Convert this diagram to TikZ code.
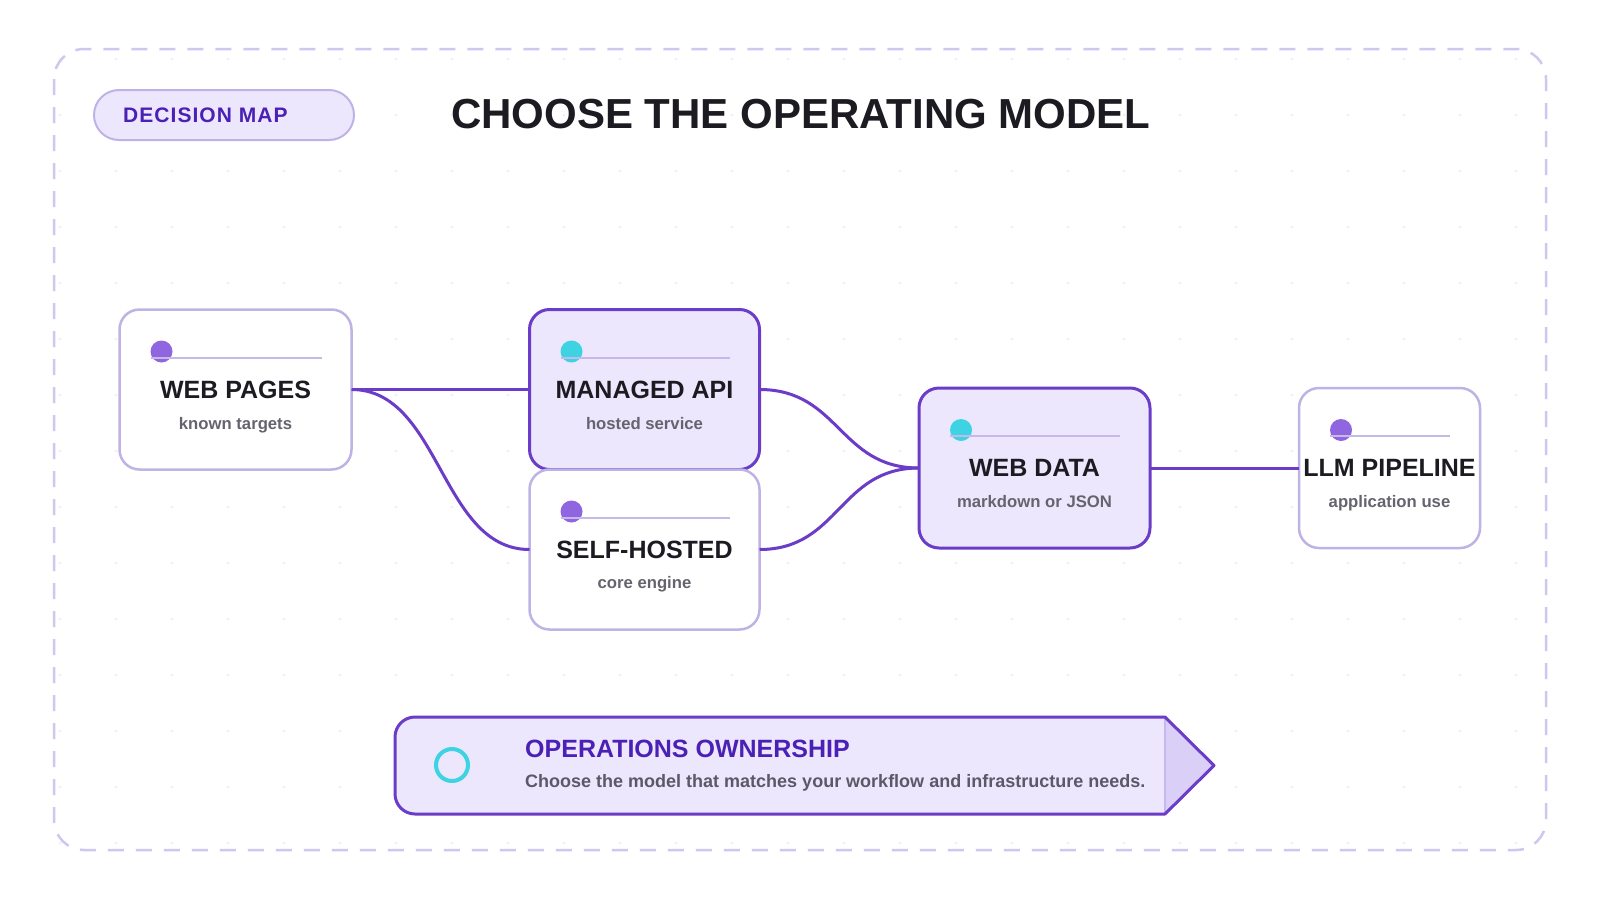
\documentclass[tikz,border=0pt]{standalone}
\usepackage{fontspec}
\usepackage{graphicx}
\setmainfont{Liberation Sans}
\newfontfamily\tagfont[LetterSpace=5]{Liberation Sans}
\usetikzlibrary{positioning, backgrounds}

\definecolor{ink}{HTML}{1C1B22}
\definecolor{subgray}{HTML}{66636F}
\definecolor{notegray}{HTML}{5B5868}
\definecolor{violet}{HTML}{6A3CC8}
\definecolor{lilac}{HTML}{BFB3E6}
\definecolor{lavender}{HTML}{EDE7FD}
\definecolor{railc}{HTML}{C4B9E8}
\definecolor{dotpurple}{HTML}{9065E0}
\definecolor{dotcyan}{HTML}{3DD3E3}
\definecolor{indigo}{HTML}{4B20B5}
\definecolor{framedash}{HTML}{CEC7EF}
\definecolor{griddot}{HTML}{F2F0F7}
\definecolor{tipfill}{HTML}{D9CFF7}
\definecolor{tipline}{HTML}{C4B8EE}

\begin{document}
\begin{tikzpicture}[
    x=1pt, y=-1pt,
    card/.style={rectangle, draw=lilac, line width=2.5pt, fill=white, rounded corners=20pt, minimum width=232pt, minimum height=160pt, inner sep=0pt, outer sep=0pt, text=ink, font={\bfseries\fontsize{25}{29}\selectfont}},
    pick/.style={card, draw=violet, line width=3pt, fill=lavender},
    sub/.style={anchor=base, inner sep=0pt, text=subgray, font={\bfseries\fontsize{16.7}{19}\selectfont}},
    link/.style={draw=violet, line width=3pt},
    rail/.style={draw=railc, line width=2pt},
    pill/.style={rectangle, draw=lilac, line width=2pt, fill=lavender, rounded corners=25pt, minimum width=260pt, minimum height=50pt}
]
\useasboundingbox (0,0) rectangle (1600,900);

% Header
\node[pill] (tag) at (224,115) {};
\node[anchor=base west, inner sep=0pt, text=indigo, font={\tagfont\bfseries\fontsize{21}{24}\selectfont}] (tagtext) at (123,122.7) {DECISION MAP};
\node[anchor=base west, inner sep=0pt, text=ink, font={\bfseries\fontsize{42}{48}\selectfont}] (title) at (451,128.3) {CHOOSE THE OPERATING MODEL};

% Source and routes
\node[card] (pages) at (235.5,389.5) {WEB PAGES};
\node[pick, minimum width=230pt, right=178pt of pages] (managed) {MANAGED API};
\node[card, minimum width=230pt, below=0pt of managed] (selfhosted) {SELF-HOSTED};

% Output
\node[pick, minimum width=231pt] (webdata) at (1034.5,468) {WEB DATA};
\node[card, minimum width=181pt, right=149pt of webdata] (llm) {LLM PIPELINE};

\node[sub] at ([yshift=-39.5pt]pages.center) {known targets};
\node[sub] at ([yshift=-39.5pt]managed.center) {hosted service};
\node[sub] at ([yshift=-39pt]selfhosted.center) {core engine};
\node[sub] at ([yshift=-39pt]webdata.center) {markdown or JSON};
\node[sub] at ([yshift=-39pt]llm.center) {application use};

\foreach \n/\c in {pages/dotpurple, managed/dotcyan, selfhosted/dotpurple, webdata/dotcyan, llm/dotpurple} {
    \fill[\c] ([xshift=42pt, yshift=-42pt]\n.north west) circle (11pt);
    \draw[rail] ([xshift=31pt, yshift=-48pt]\n.north west) -- ([xshift=-30pt, yshift=-48pt]\n.north east);
}

% Connectors
\draw[link] (pages.east) -- (managed.west);
\draw[link] (pages.east) .. controls +(89,0) and +(-89,0) .. (selfhosted.west);
\draw[link] (managed.east) .. controls +(80,0) and +(-80,0) .. (webdata.west);
\draw[link] (selfhosted.east) .. controls +(80,0) and +(-80,0) .. (webdata.west);
\draw[link] (webdata.east) -- (llm.west);

% Ownership banner
\fill[lavender] (1165,717) -- (1214,765.5) -- (1165,814) -- (415,814) .. controls (404,814) and (395,805) .. (395,794) -- (395,737) .. controls (395,726) and (404,717) .. (415,717) -- cycle;
\fill[tipfill] (1165,717) -- (1214,765.5) -- (1165,814) -- cycle;
\draw[tipline, line width=1.5pt] (1165,718) -- (1165,813);
\draw[violet, line width=3pt, line join=round] (1165,717) -- (1214,765.5) -- (1165,814) -- (415,814) .. controls (404,814) and (395,805) .. (395,794) -- (395,737) .. controls (395,726) and (404,717) .. (415,717) -- cycle;
\draw[dotcyan, line width=4pt] (452,765) circle (16pt);
\node[anchor=base west, inner sep=0pt, text=indigo, font={\bfseries\fontsize{25}{29}\selectfont}] (owntitle) at (525,757.5) {OPERATIONS OWNERSHIP};
\node[anchor=base west, inner sep=0pt, text=notegray, font={\bfseries\fontsize{18}{21}\selectfont}] (ownnote) at (525,787.5) {Choose the model that matches your workflow and infrastructure needs.};

% Background
\begin{scope}[on background layer]
    \fill[white] (0,0) rectangle (1600,900);
    \foreach \gx in {60,116,...,1540}
        \foreach \gy in {59,115,...,843}
            \fill[griddot] (\gx,\gy) circle (1.6pt);
    \draw[framedash, line width=2.5pt, dash pattern=on 16pt off 12pt, rounded corners=30pt] (54,49) rectangle (1546,850);
\end{scope}

\end{tikzpicture}
\end{document}
